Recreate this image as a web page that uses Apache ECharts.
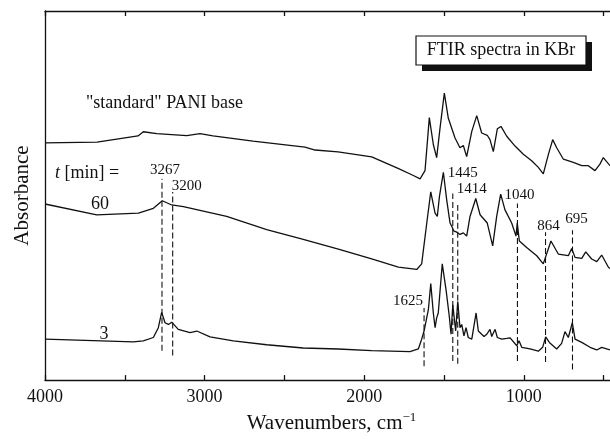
<!DOCTYPE html>
<html>
<head>
<meta charset="utf-8">
<script src="https://cdn.jsdelivr.net/npm/echarts@6/dist/echarts.min.js"></script>
<style>
  html, body { margin: 0; padding: 0; background: #fff; }
  #main { width: 610px; height: 439px; }
</style>
</head>
<body>
<div id="main"></div>
<script>
// x ticks / labels (cm-1)
const xTickValues = [4000, 3500, 3000, 2500, 2000, 1500, 1000, 500];
const xLabelValues = [4000, 3000, 2000, 1000];

// "standard" PANI base
const stdWn  = [4000, 3674, 3417, 3384, 3300, 3112, 3029, 2947, 2697, 2371, 2308, 2164, 1953, 1788, 1692, 1650, 1619, 1592, 1567, 1546, 1525, 1498, 1473, 1431, 1400, 1379, 1358, 1326, 1295, 1264, 1229, 1212, 1191, 1166, 1143, 1107, 1055, 1003, 951, 909, 878, 846, 819, 794, 752, 690, 637, 596, 554, 523, 502, 460];
const stdAbs = [241.7, 242.4, 248.7, 253, 251, 249, 251, 248.7, 243.4, 237.4, 234.4, 232.4, 227.4, 215.7, 208.4, 205, 213.4, 267.4, 240, 226.7, 256.7, 292.4, 266.7, 246.7, 236.7, 239, 227.7, 253.4, 269.4, 251.7, 249.4, 245, 232.7, 256, 258.4, 248.4, 238.4, 230, 223.4, 216.7, 210, 230, 245, 236.7, 225, 221.7, 218.4, 218.4, 213.4, 220, 226.7, 218.4];

// t = 60 min
const t60Wn  = [4000, 3676, 3415, 3321, 3265, 3206, 3133, 2862, 2611, 2382, 2162, 1953, 1786, 1671, 1640, 1608, 1583, 1556, 1542, 1529, 1504, 1483, 1462, 1452, 1437, 1420, 1400, 1379, 1358, 1337, 1301, 1274, 1229, 1195, 1170, 1145, 1118, 1076, 1049, 1041, 1028, 982, 919, 878, 830, 784, 721, 700, 679, 637, 612, 575, 543, 512, 470, 460];
const t60Abs = [179.4, 168.4, 170, 175, 182.7, 178.4, 176.7, 166.7, 153.4, 143.4, 133.4, 123.4, 115, 112.7, 118.4, 160, 191.7, 170, 166.7, 186.7, 211.7, 183.4, 160, 156.7, 151.7, 150.7, 148.4, 150, 146.7, 166.7, 185, 168.4, 160, 136.7, 166.7, 189.4, 173.4, 160, 146.7, 160, 141.7, 135, 126.7, 118.4, 141.7, 128.4, 126.7, 134, 125, 124, 130.7, 123.4, 120.7, 127.4, 115, 113.7];

// t = 3 min
const t3Wn  = [4000, 3447, 3384, 3321, 3290, 3269, 3248, 3227, 3206, 3165, 3091, 3049, 2966, 2820, 2611, 2382, 2162, 1953, 1713, 1661, 1640, 1625, 1613, 1598, 1583, 1567, 1556, 1546, 1536, 1511, 1487, 1467, 1456, 1445, 1427, 1414, 1400, 1389, 1375, 1362, 1348, 1326, 1299, 1285, 1264, 1249, 1232, 1212, 1201, 1180, 1166, 1138, 1107, 1086, 1044, 1030, 1013, 961, 909, 882, 863, 840, 794, 763, 742, 721, 696, 679, 637, 585, 543, 512, 460];
const t3Abs = [41.7, 39, 40, 43.4, 53.4, 69, 58.4, 56.7, 59, 51.7, 48.4, 50, 44, 40, 36, 32.7, 31.7, 30, 29, 31.7, 41.7, 50, 51.7, 71.7, 98.4, 68.4, 53.4, 63.4, 68.4, 118.4, 91.7, 65, 46.7, 76.7, 50, 80, 53.4, 56.7, 45, 53.4, 43.4, 41.7, 68.4, 50, 46.7, 44.4, 46.7, 51.7, 44.4, 51.7, 43.4, 41.7, 42.4, 43, 35, 40, 33.4, 31.7, 29.4, 33.4, 44, 38.4, 31.7, 37.4, 49.4, 43.4, 58.4, 41.7, 38.4, 33.4, 30.7, 33.4, 30.7];

// marked bands (dashed lines)
const peakWn     = [3267, 3200, 1625, 1445, 1414, 1040, 864, 695];
const peakTop    = [205, 191.7, 73.4, 190, 178.4, 180, 150.7, 152.7];
const peakBottom = [30, 25, 14, 19.4, 16.7, 19.4, 18.4, 10.7];

const FONT = 'Liberation Serif';
// label offsets from the top of each dashed line (px)
const labelOffset = {
  3267: [3, -9], 3200: [14, -6], 1625: [-16, -7], 1445: [10, -21],
  1414: [14, -16], 1040: [2, -8], 864: [3, -6], 695: [4, -11]
};

const zip = (a, b) => a.map((v, i) => [v, b[i]]);

const chart = echarts.init(document.getElementById('main'));

const series = [
  { data: zip(stdWn, stdAbs) },
  { data: zip(t60Wn, t60Abs) },
  { data: zip(t3Wn, t3Abs) }
].map(s => ({
  type: 'line', data: s.data, showSymbol: false, silent: true,
  lineStyle: { color: '#111', width: 1.3 }
}));

peakWn.forEach((w, i) => {
  series.push({
    type: 'line', showSymbol: false, silent: true,
    data: [[w, peakBottom[i]], [w, peakTop[i]]],
    lineStyle: { color: '#111', width: 1.1, type: [6, 3] }
  });
});

series.push({
  type: 'scatter', symbolSize: 0, silent: true,
  itemStyle: { opacity: 1, color: '#111' },
  data: peakWn.map((w, i) => ({
    value: [w, peakTop[i]],
    label: { offset: labelOffset[w] }
  })),
  label: {
    show: true, position: 'inside', color: '#111', opacity: 1,
    textBorderWidth: 0, fontFamily: FONT, fontSize: 15,
    formatter: p => String(p.value[0])
  }
});

const xCommon = {
  type: 'value', inverse: true, min: 460, max: 4000,
  splitLine: { show: false },
  axisLine: { lineStyle: { color: '#111', width: 1.3 } },
  axisTick: { inside: true, length: 5, customValues: xTickValues, lineStyle: { color: '#111', width: 1.3 } }
};

chart.setOption({
  animation: false,
  grid: { left: 45, right: 0, top: 11, bottom: 52 },
  xAxis: [
    Object.assign({}, xCommon, {
      position: 'bottom',
      name: 'Wavenumbers, cm{sup|\u22121}',
      nameLocation: 'middle', nameGap: 25,
      nameTextStyle: {
        fontFamily: FONT, fontSize: 21, color: '#111', padding: [0, 0, 0, 8],
        rich: { sup: { fontFamily: FONT, fontSize: 13, color: '#111', padding: [0, 0, 12, 0] } }
      },
      axisLabel: {
        customValues: xLabelValues, fontFamily: FONT, fontSize: 18, color: '#111', margin: 8,
        formatter: v => String(v)
      }
    }),
    Object.assign({}, xCommon, {
      position: 'top',
      axisLabel: { show: false, customValues: xLabelValues }
    })
  ],
  yAxis: {
    type: 'value', min: 0, max: 376,
    name: 'Absorbance', nameLocation: 'middle', nameGap: 12, nameRotate: 90,
    nameTextStyle: { fontFamily: FONT, fontSize: 21, color: '#111' },
    splitLine: { show: false },
    axisTick: { show: false },
    axisLabel: { show: false },
    axisLine: { show: true, lineStyle: { color: '#111', width: 1.3 } }
  },
  graphic: [
    { type: 'rect', shape: { x: 422, y: 42, width: 170, height: 29 }, style: { fill: '#111' } },
    { type: 'rect', shape: { x: 416, y: 36, width: 170, height: 29 }, style: { fill: '#fff', stroke: '#111', lineWidth: 1.2 } },
    { type: 'text', x: 501, y: 50.5, style: { text: 'FTIR spectra in KBr', font: '18px "Liberation Serif"', fill: '#111', align: 'center', verticalAlign: 'middle' } },
    { type: 'text', x: 86, y: 103.5, style: { text: '"standard" PANI base', font: '18px "Liberation Serif"', fill: '#111', verticalAlign: 'middle' } },
    { type: 'text', x: 55, y: 173.5, style: {
        text: '{i|t} [min] =', fill: '#111', verticalAlign: 'middle',
        font: '18px "Liberation Serif"',
        rich: { i: { fontFamily: FONT, fontStyle: 'italic', fontSize: 18, fill: '#111' } }
      } },
    { type: 'text', x: 100, y: 204, style: { text: '60', font: '18px "Liberation Serif"', fill: '#111', align: 'center', verticalAlign: 'middle' } },
    { type: 'text', x: 104, y: 334.5, style: { text: '3', font: '18px "Liberation Serif"', fill: '#111', align: 'center', verticalAlign: 'middle' } }
  ],
  series: series
});
</script>
</body>
</html>
